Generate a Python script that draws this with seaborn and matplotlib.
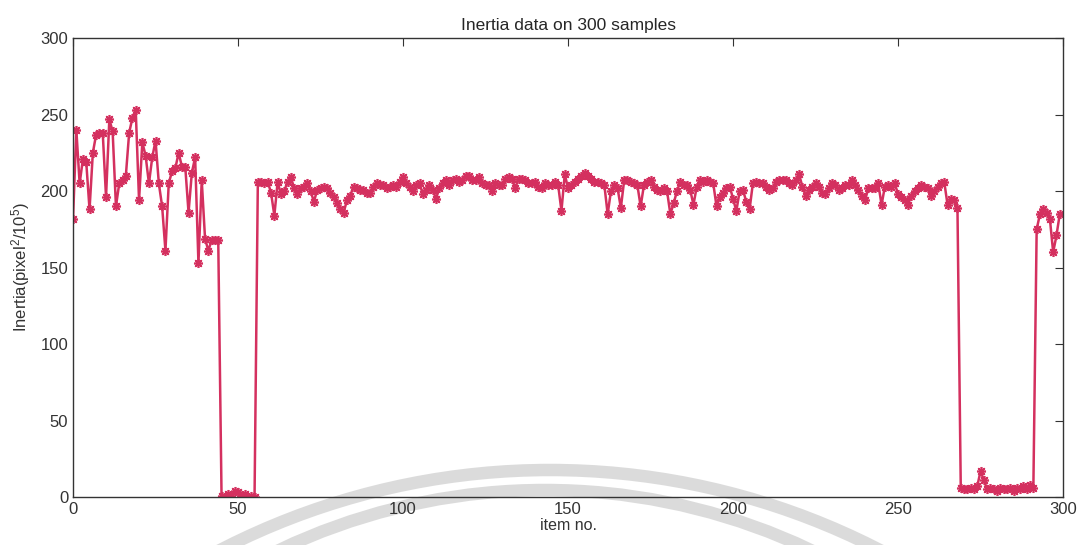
import numpy as np
import pandas as pd
import matplotlib
matplotlib.use("Agg")
import matplotlib.pyplot as plt
from matplotlib.patches import Arc
import seaborn as sns

# ------------------------------------------------------------
# data (inertia per item, 300 samples)
# ------------------------------------------------------------
seg_start = [182, 240, 205, 221, 219, 188, 225, 237, 238, 238,
             196, 247, 239, 190, 205, 207, 210, 238, 248, 253,
             194, 232, 223, 205, 222, 233, 205, 190, 161, 205,
             213, 215, 225, 216, 216, 186, 212, 222, 153, 207,
             169, 161, 168, 168, 168]
seg_gap1 = [1, 0, 2, 1, 4, 3, 1, 2, 0, 1, 0]
seg_mid1 = [206, 206, 205, 206, 199, 184, 206, 198, 200, 206,
            209, 202, 198, 202, 203, 205, 200, 193, 201, 202,
            203, 202, 199, 196, 192, 188, 186, 194, 197, 203,
            202, 201, 201, 199, 199, 203, 205, 204, 204, 202,
            203, 204, 203, 206, 209, 205, 203, 200, 204, 205,
            198, 201, 204, 201, 195, 202, 205, 207]
seg_mid2 = [204, 207, 208, 206, 207, 210, 210, 207, 207, 209,
            205, 204, 204, 200, 205, 204, 204, 208, 209, 208,
            202, 208, 208, 207, 205, 205, 206, 203, 202, 205,
            204, 204, 206, 204, 187, 211, 202, 204, 206, 208,
            210, 212, 210, 208, 206, 206, 205, 204, 185, 200,
            204, 202, 189, 207, 207, 206, 205, 204, 190, 204,
            206, 207, 203, 201, 200, 202, 200, 185, 192, 200,
            206, 204, 204]
seg_mid3 = [201, 191, 203, 207, 206, 207, 206, 205, 190, 196,
            199, 202, 203, 195, 187, 200, 201, 193, 188, 205,
            206, 205, 205, 203, 201, 202, 206, 207, 207, 207,
            205, 204, 207, 211, 203, 197, 201, 203, 205, 203,
            199, 198, 202, 205, 204, 201, 202, 204, 204, 207,
            204, 201, 197, 194, 202, 202, 202, 205, 191, 203,
            204, 203, 205, 198, 196, 194, 191, 197, 200, 202,
            204, 203, 202, 197, 200, 203, 205, 206, 191, 195,
            194, 189]
seg_gap2 = [6, 5, 5, 6, 5, 7, 17, 11, 5, 6, 5, 4, 6, 5, 5, 6,
            4, 6, 5, 7, 5, 8, 6]
seg_end = [175, 185, 188, 186, 182, 160, 171, 185]

inertia = seg_start + seg_gap1 + seg_mid1 + seg_mid2 + seg_mid3 + seg_gap2 + seg_end
items = list(range(len(inertia)))

df = pd.DataFrame({"item": items, "inertia": inertia})

# ------------------------------------------------------------
# plot
# ------------------------------------------------------------
sns.set_style("white")
plt.rcParams["font.family"] = ["Liberation Sans", "DejaVu Sans"]
plt.rcParams["mathtext.default"] = "regular"

fig = plt.figure(figsize=(10.82, 5.45), dpi=100)
ax = fig.add_axes([0.0675, 0.088, 0.915, 0.842])
ax.patch.set_alpha(0)

line_col = "#d4305f"
sns.lineplot(data=df, x="item", y="inertia", ax=ax, color=line_col,
             linewidth=1.8, marker=(8, 2, 0), markersize=6.5,
             markeredgecolor=line_col, markeredgewidth=1.2)

ax.set_xlim(0, 300)
ax.set_ylim(0, 300)
ax.set_xticks(range(0, 301, 50))
ax.set_yticks(range(0, 301, 50))
ax.tick_params(direction="in", top=True, right=True, length=6,
               labelsize=12, colors="#333333", width=0.8)
for s in ax.spines.values():
    s.set_visible(True)
    s.set_color("#333333")
    s.set_linewidth(1.0)

ax.set_title("Inertia data on 300 samples", fontsize=12.5, pad=6)
ax.set_xlabel("item no.", fontsize=11.5, labelpad=1, color="#333333")
ax.set_ylabel("Inertia(pixel$^2$/10$^5$)", fontsize=12, labelpad=6,
              color="#333333")

# faint watermark arcs from the scanned page (behind the axes)
for cx, cy, r in [(550, 1190, 720), (545, 1109, 619)]:
    arc = Arc((cx / 1082, 1 - cy / 545), 2 * r / 1082, 2 * r / 545,
              theta1=0, theta2=180, transform=fig.transFigure,
              color="#c4c4c4", linewidth=9, alpha=0.6, zorder=-1)
    fig.add_artist(arc)

fig.savefig("out.png", dpi=100)
plt.close(fig)
